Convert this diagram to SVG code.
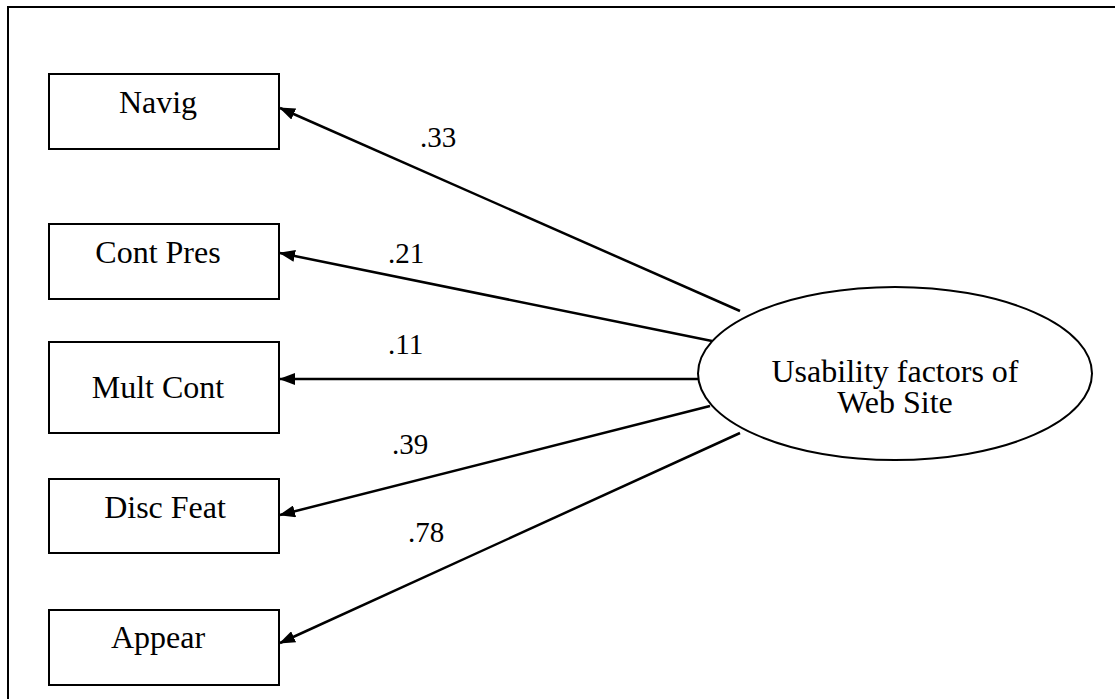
<svg xmlns="http://www.w3.org/2000/svg" width="1115" height="699" viewBox="0 0 1115 699">
<style>
.box{fill:#fff;stroke:#000;stroke-width:2}
.lbl{font-family:"Liberation Serif","Times New Roman",serif;font-size:32px;fill:#000}
.coef{font-family:"Liberation Serif","Times New Roman",serif;font-size:29px;fill:#000}
.arr{stroke:#000;stroke-width:2.5;fill:none;marker-end:url(#ah)}
</style>
<defs>
<marker id="ah" markerWidth="16" markerHeight="12" refX="15" refY="6" orient="auto" markerUnits="userSpaceOnUse">
<path d="M0,0 L16,6 L0,12 Z" fill="#000"/>
</marker>
</defs>
<rect x="0" y="0" width="1115" height="699" fill="#fff"/>
<path d="M8,699 L8,7 L1115,7" fill="none" stroke="#000" stroke-width="2"/>
<g id="navig"><rect class="box" x="49" y="74" width="230" height="75"/><text class="lbl" x="158" y="113" text-anchor="middle">Navig</text></g>
<g id="contpres"><rect class="box" x="49" y="224" width="230" height="75"/><text class="lbl" x="158" y="263" text-anchor="middle">Cont Pres</text></g>
<g id="multcont"><rect class="box" x="49" y="342" width="230" height="91"/><text class="lbl" x="158" y="398" text-anchor="middle">Mult Cont</text></g>
<g id="discfeat"><rect class="box" x="49" y="479" width="230" height="74"/><text class="lbl" x="165" y="518" text-anchor="middle">Disc Feat</text></g>
<g id="appear"><rect class="box" x="49" y="610" width="230" height="75"/><text class="lbl" x="158" y="648" text-anchor="middle">Appear</text></g>
<g id="usability"><ellipse class="box" cx="895" cy="373.5" rx="197" ry="86.5"/><text class="lbl" x="895" y="382" text-anchor="middle">Usability factors of</text><text class="lbl" x="895" y="413" text-anchor="middle">Web Site</text></g>
<g id="connectors">
<line class="arr" x1="740" y1="311" x2="280" y2="108"/>
<line class="arr" x1="712" y1="341" x2="280" y2="253"/>
<line class="arr" x1="698" y1="379" x2="280" y2="379"/>
<line class="arr" x1="710" y1="406" x2="280" y2="515"/>
<line class="arr" x1="740" y1="433" x2="280" y2="643"/>
<text class="coef" x="420" y="147">.33</text>
<text class="coef" x="388" y="263">.21</text>
<text class="coef" x="388" y="354">.11</text>
<text class="coef" x="392" y="454">.39</text>
<text class="coef" x="408" y="542">.78</text>
</g>
</svg>
